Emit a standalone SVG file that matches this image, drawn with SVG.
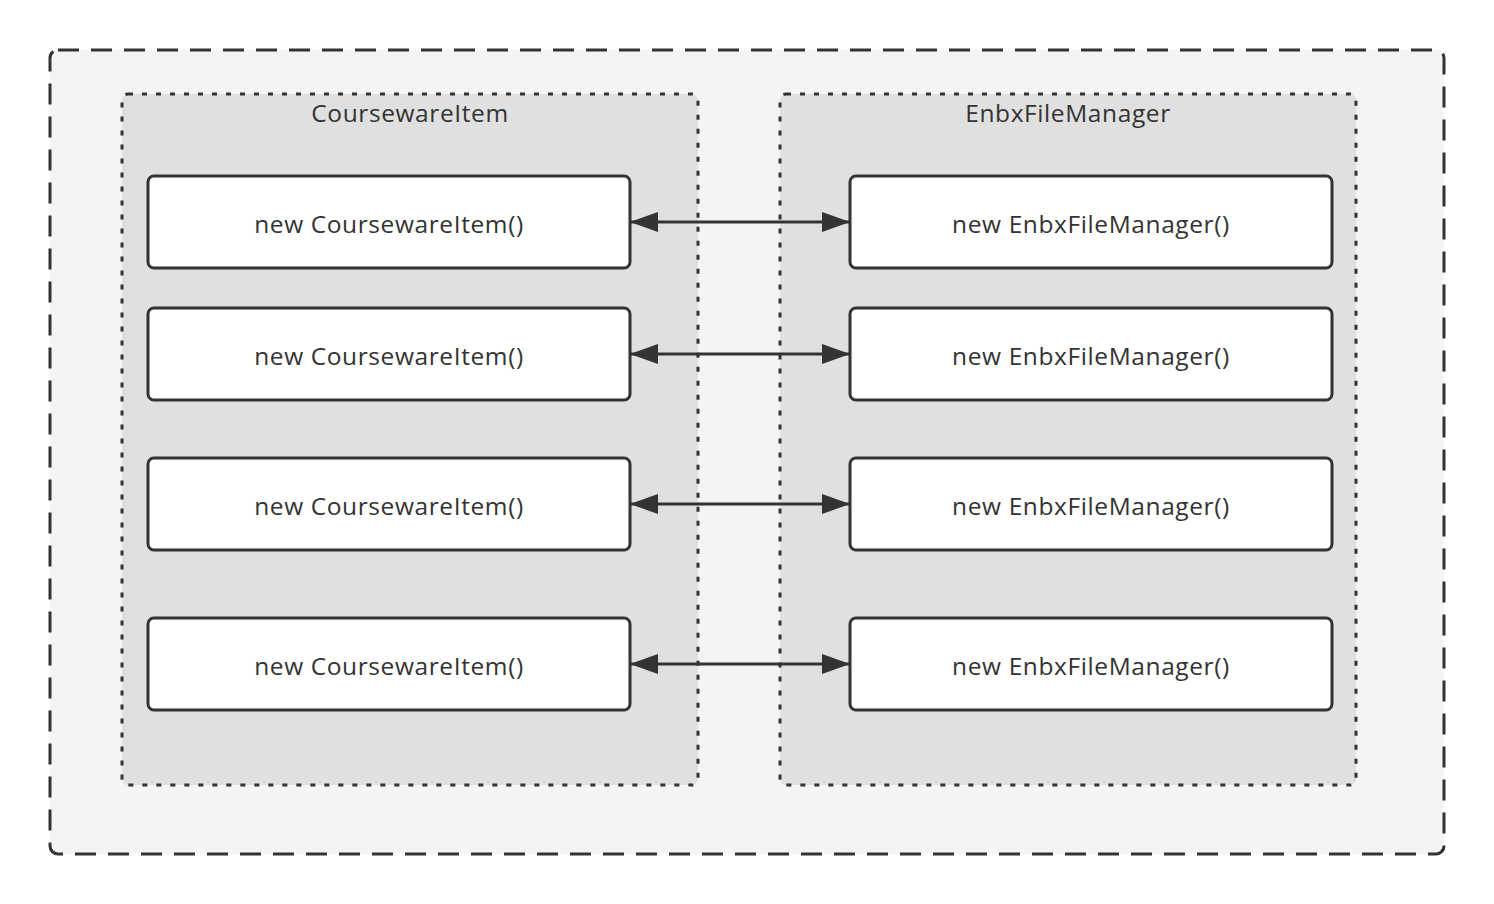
<svg xmlns="http://www.w3.org/2000/svg" width="1494" height="904" viewBox="0 0 1494 904">
<style>
.t{font-family:"Open Sans","Liberation Sans",Arial,sans-serif;font-size:24.5px;letter-spacing:0.6px;fill:#333;text-anchor:middle;dominant-baseline:central}
.n{fill:#fff;stroke:#333;stroke-width:3}
.g{fill:#e0e0e0;stroke:#333;stroke-width:3;stroke-dasharray:5 9}
.c{stroke:#333;stroke-width:3;fill:none;marker-start:url(#a);marker-end:url(#a)}
</style>
<defs>
<marker id="a" viewBox="0 0 28 20" refX="28" refY="10" markerWidth="28" markerHeight="20" markerUnits="userSpaceOnUse" orient="auto-start-reverse">
<path d="M0,0 L28,10 L0,20 Z" fill="#333"/>
</marker>
</defs>
<rect width="1494" height="904" fill="#fff"/>
<g id="outer"><rect x="50" y="50" width="1394" height="804" rx="8" fill="#f4f4f4" stroke="#333" stroke-width="3" stroke-dasharray="21 12"/></g>
<g id="grp-courseware"><rect class="g" x="122" y="94" width="576" height="691" rx="6"/><text class="t" x="410" y="112">CoursewareItem</text></g>
<g id="grp-enbx"><rect class="g" x="780" y="94" width="576" height="691" rx="6"/><text class="t" x="1068" y="112">EnbxFileManager</text></g>
<g id="c1"><rect class="n" x="148" y="176" width="482" height="92" rx="6"/><text class="t" x="389" y="223">new CoursewareItem()</text></g>
<g id="c2"><rect class="n" x="148" y="308" width="482" height="92" rx="6"/><text class="t" x="389" y="355">new CoursewareItem()</text></g>
<g id="c3"><rect class="n" x="148" y="458" width="482" height="92" rx="6"/><text class="t" x="389" y="505">new CoursewareItem()</text></g>
<g id="c4"><rect class="n" x="148" y="618" width="482" height="92" rx="6"/><text class="t" x="389" y="665">new CoursewareItem()</text></g>
<g id="e1"><rect class="n" x="850" y="176" width="482" height="92" rx="6"/><text class="t" x="1091" y="223">new EnbxFileManager()</text></g>
<g id="e2"><rect class="n" x="850" y="308" width="482" height="92" rx="6"/><text class="t" x="1091" y="355">new EnbxFileManager()</text></g>
<g id="e3"><rect class="n" x="850" y="458" width="482" height="92" rx="6"/><text class="t" x="1091" y="505">new EnbxFileManager()</text></g>
<g id="e4"><rect class="n" x="850" y="618" width="482" height="92" rx="6"/><text class="t" x="1091" y="665">new EnbxFileManager()</text></g>
<g id="connectors">
<path class="c" d="M630,222 H850"/>
<path class="c" d="M630,354 H850"/>
<path class="c" d="M630,504 H850"/>
<path class="c" d="M630,664 H850"/>
</g>
</svg>
